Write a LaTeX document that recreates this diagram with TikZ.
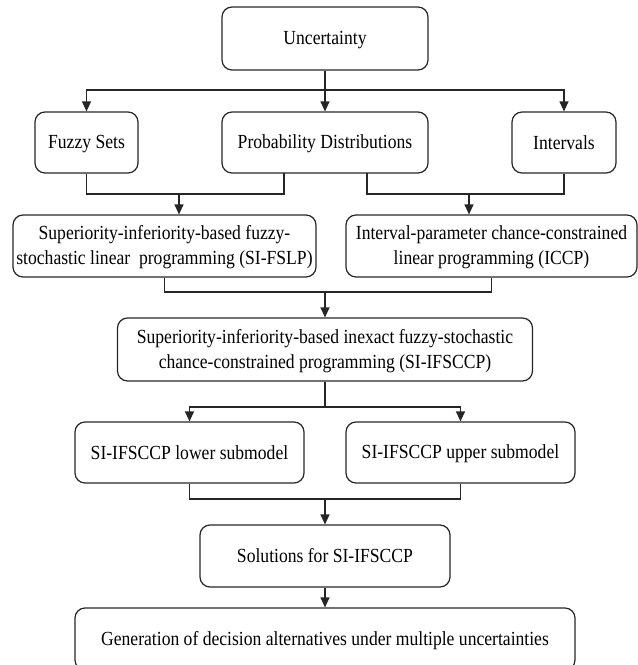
\documentclass[tikz,border=0pt]{standalone}
\usepackage{fontspec}
\setmainfont{Liberation Serif}[FakeStretch=0.88]
\usetikzlibrary{arrows.meta}
\newcommand\zs{\rule[-4pt]{0pt}{21.2pt}}
\begin{document}
\begin{tikzpicture}[x=1pt,y=-1pt,
  box/.style={draw=black!85,rounded corners=10pt,line width=1.2pt,align=center,inner sep=0pt,
    font=\fontsize{20}{25}\selectfont},
  ln/.style={draw=black!85,line width=1.2pt},
  arr/.style={ln,-{Triangle[length=10pt,width=9pt]}}]
\useasboundingbox (0,0) rectangle (638,665);
\clip (0,0) rectangle (638,665);
% nodes
\node[box,minimum width=206pt,minimum height=63pt] (unc) at (325,38.5) {\zs Uncertainty};
\node[box,minimum width=103pt,minimum height=61pt] (fuzzy) at (86.5,142.5) {\zs Fuzzy Sets};
\node[box,minimum width=206pt,minimum height=61pt] (prob) at (325,142.5) {\zs Probability Distributions};
\node[box,minimum width=104pt,minimum height=61pt] (intv) at (564,142.5) {\zs Intervals};
\node[box,minimum width=303pt,minimum height=62pt] (fslp) at (164.5,246) {\zs Superiority-inferiority-based fuzzy-\\\zs stochastic linear~ programming (SI-FSLP)};
\node[box,minimum width=291pt,minimum height=62pt] (iccp) at (491.5,246) {\zs Interval-parameter chance-constrained\\\zs linear programming (ICCP)};
\node[box,minimum width=415pt,minimum height=63pt] (ifsccp) at (325,349.5) {\zs Superiority-inferiority-based inexact fuzzy-stochastic\\\zs chance-constrained programming (SI-IFSCCP)};
\node[box,minimum width=229pt,minimum height=61pt] (lower) at (189.5,452.5) {\zs SI-IFSCCP lower submodel};
\node[box,minimum width=229pt,minimum height=61pt] (upper) at (460.5,452.5) {\zs SI-IFSCCP upper submodel};
\node[box,minimum width=250pt,minimum height=62pt] (sol) at (325,556) {\zs Solutions for SI-IFSCCP};
\node[box,minimum width=500pt,minimum height=62pt] (gen) at (325,639) {\zs Generation of decision alternatives under multiple uncertainties};
% junction coordinates
\coordinate (b1) at (325,90);
\coordinate (pL) at (284,173);
\coordinate (pR) at (367,173);
\coordinate (m1) at (179,194);
\coordinate (m2) at (469,194);
\coordinate (m3) at (325,292);
\coordinate (b4) at (325,407);
\coordinate (m5) at (325,499);
% connectors
\draw[ln] (unc) -- (b1);
\draw[arr] (b1) -| (fuzzy);
\draw[arr] (b1) -- (prob);
\draw[arr] (b1) -| (intv);
\draw[ln] (fuzzy.south) |- (m1) -| (pL);
\draw[arr] (m1) -- (m1 |- fslp.north);
\draw[ln] (pR) |- (m2) -| (intv.south);
\draw[arr] (m2) -- (m2 |- iccp.north);
\draw[ln] (fslp.south) |- (m3) -| (iccp.south);
\draw[arr] (m3) -- (m3 |- ifsccp.north);
\draw[ln] (ifsccp) -- (b4);
\draw[arr] (b4) -| (lower);
\draw[arr] (b4) -| (upper);
\draw[ln] (lower.south) |- (m5) -| (upper.south);
\draw[arr] (m5) -- (sol);
\draw[arr] (sol) -- (gen);
\end{tikzpicture}
\end{document}
